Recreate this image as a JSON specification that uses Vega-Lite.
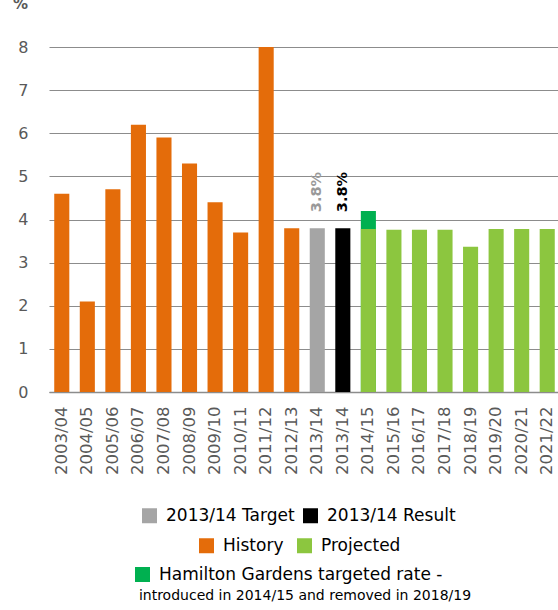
{
  "$schema": "https://vega.github.io/schema/vega-lite/v6.json",
  "autosize": "none",
  "padding": {"left": 49, "top": 47, "right": 0, "bottom": 218},
  "width": 511,
  "height": 345,
  "background": "white",
  "config": {
    "font": "DejaVu Sans",
    "view": {"stroke": null}
  },
  "title": {
    "text": "%",
    "anchor": "start",
    "frame": "group",
    "dx": -36,
    "offset": 12,
    "baseline": "bottom",
    "fontSize": 15,
    "fontWeight": "bold",
    "color": "#595959"
  },
  "data": {
    "values": [
      {"key": "2003/04", "series": "History", "hi": 4.6},
      {"key": "2004/05", "series": "History", "hi": 2.1},
      {"key": "2005/06", "series": "History", "hi": 4.7},
      {"key": "2006/07", "series": "History", "hi": 6.2},
      {"key": "2007/08", "series": "History", "hi": 5.9},
      {"key": "2008/09", "series": "History", "hi": 5.3},
      {"key": "2009/10", "series": "History", "hi": 4.4},
      {"key": "2010/11", "series": "History", "hi": 3.7},
      {"key": "2011/12", "series": "History", "hi": 8.0},
      {"key": "2012/13", "series": "History", "hi": 3.8},
      {"key": "2013/14", "series": "2013/14 Target", "hi": 3.8, "label": "3.8%"},
      {"key": "2013/14\u200b", "series": "2013/14 Result", "hi": 3.8, "label": "3.8%"},
      {"key": "2014/15", "series": "Hamilton Gardens targeted rate -", "hi": 4.2},
      {"key": "2014/15", "series": "Projected", "hi": 3.78},
      {"key": "2015/16", "series": "Projected", "hi": 3.76},
      {"key": "2016/17", "series": "Projected", "hi": 3.76},
      {"key": "2017/18", "series": "Projected", "hi": 3.76},
      {"key": "2018/19", "series": "Projected", "hi": 3.37},
      {"key": "2019/20", "series": "Projected", "hi": 3.78},
      {"key": "2020/21", "series": "Projected", "hi": 3.78},
      {"key": "2021/22", "series": "Projected", "hi": 3.78}
    ]
  },
  "encoding": {
    "x": {
      "field": "key",
      "type": "nominal",
      "scale": {
        "domain": ["2003/04","2004/05","2005/06","2006/07","2007/08","2008/09","2009/10","2010/11","2011/12","2012/13","2013/14","2013/14\u200b","2014/15","2015/16","2016/17","2017/18","2018/19","2019/20","2020/21","2021/22"],
        "paddingInner": 0.41,
        "paddingOuter": 0.205
      },
      "axis": {
        "title": "introduced in 2014/15 and removed in 2018/19",
        "titleFontSize": 14,
        "titleFontWeight": "normal",
        "titleColor": "#000000",
        "titlePadding": 114,
        "labelAngle": -90,
        "labelAlign": "right",
        "labelBaseline": "middle",
        "labelFontSize": 16.5,
        "labelColor": "#595959",
        "labelPadding": 14,
        "ticks": false,
        "domainColor": "#8c8c8c",
        "domainWidth": 1.5,
        "grid": false
      }
    },
    "y": {
      "field": "hi",
      "type": "quantitative",
      "stack": null,
      "scale": {"domain": [0, 8], "nice": false},
      "axis": {
        "title": null,
        "values": [0,1,2,3,4,5,6,7,8],
        "labelFontSize": 16,
        "labelColor": "#595959",
        "labelPadding": 21,
        "ticks": false,
        "domain": false,
        "gridColor": "#8c8c8c",
        "gridWidth": 1.2
      }
    }
  },
  "layer": [
    {
      "transform": [{"filter": "datum.series === 'Hamilton Gardens targeted rate -'"}],
      "mark": {"type": "bar"},
      "encoding": {
        "color": {
          "field": "series",
          "type": "nominal",
          "scale": {"domain": ["Hamilton Gardens targeted rate -"], "range": ["#00B050"]},
          "legend": {
            "title": null,
            "orient": "none",
            "direction": "horizontal",
            "legendX": 85,
            "legendY": 519,
            "padding": 0,
            "symbolType": "square",
            "symbolSize": 225,
            "symbolStrokeWidth": 0,
            "labelFontSize": 17,
            "labelColor": "#000000",
            "labelOffset": 8,
            "labelLimit": 400
          }
        }
      }
    },
    {
      "transform": [{"filter": "datum.series === 'History' || datum.series === 'Projected'"}],
      "mark": {"type": "bar"},
      "encoding": {
        "color": {
          "field": "series",
          "type": "nominal",
          "scale": {"domain": ["History", "Projected"], "range": ["#E46C0A", "#8CC63F"]},
          "legend": {
            "title": null,
            "orient": "none",
            "direction": "horizontal",
            "legendX": 149,
            "legendY": 490,
            "padding": 0,
            "symbolType": "square",
            "symbolSize": 225,
            "symbolStrokeWidth": 0,
            "labelFontSize": 17,
            "labelColor": "#000000",
            "labelOffset": 8,
            "columnPadding": 12,
            "labelLimit": 400
          }
        }
      }
    },
    {
      "transform": [{"filter": "datum.series === '2013/14 Target' || datum.series === '2013/14 Result'"}],
      "mark": {"type": "bar"},
      "encoding": {
        "color": {
          "field": "series",
          "type": "nominal",
          "scale": {"domain": ["2013/14 Target", "2013/14 Result"], "range": ["#A5A5A5", "#000000"]},
          "legend": {
            "title": null,
            "orient": "none",
            "direction": "horizontal",
            "legendX": 92,
            "legendY": 460,
            "padding": 0,
            "symbolType": "square",
            "symbolSize": 225,
            "symbolStrokeWidth": 0,
            "labelFontSize": 17,
            "labelColor": "#000000",
            "labelOffset": 8,
            "columnPadding": 7,
            "labelLimit": 400
          }
        }
      }
    },
    {
      "transform": [{"filter": "isValid(datum.label)"}],
      "mark": {"type": "text", "angle": -90, "align": "left", "baseline": "middle", "dx": 16, "fontSize": 14.5, "fontWeight": "bold"},
      "encoding": {
        "text": {"field": "label"},
        "color": {
          "field": "series",
          "type": "nominal",
          "scale": {"domain": ["2013/14 Target", "2013/14 Result"], "range": ["#999999", "#000000"]},
          "legend": null
        }
      }
    }
  ],
  "resolve": {"scale": {"color": "independent"}}
}
